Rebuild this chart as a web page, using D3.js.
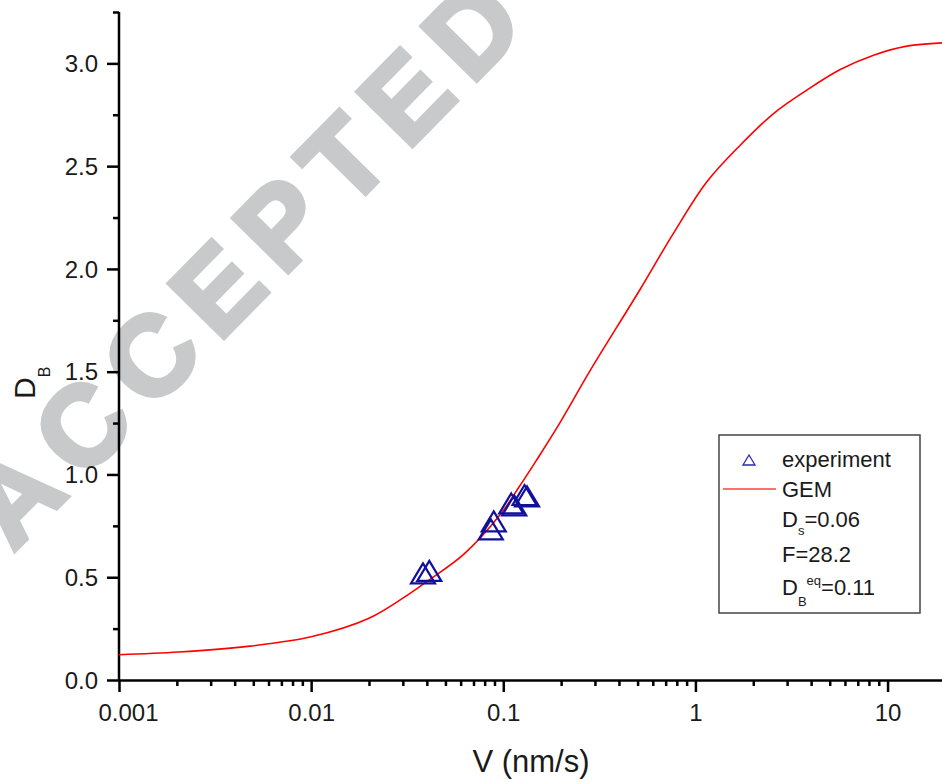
<!DOCTYPE html>
<html>
<head>
<meta charset="utf-8">
<script src="https://cdn.jsdelivr.net/npm/d3@7"></script>
<style>
  body { margin: 0; background: #fff; }
  svg { display: block; font-family: "Liberation Sans", Arial, sans-serif; }
</style>
</head>
<body>
<div id="chart"></div>
<script>
// GEM model curve
var gemV = [0.001, 0.00204, 0.0048, 0.01, 0.02, 0.033, 0.041, 0.0626, 0.0962, 0.121, 0.149,
            0.197, 0.283, 0.515, 0.768, 1.147, 1.71, 2.55, 3.8, 5.67, 8.45, 12.6, 19.2];
var gemD = [0.123, 0.136, 0.165, 0.21, 0.30, 0.424, 0.486, 0.614, 0.804, 0.94, 1.07,
            1.251, 1.505, 1.9, 2.173, 2.424, 2.602, 2.756, 2.87, 2.97, 3.04, 3.084, 3.1];

// experimental points
var expV = [0.0382, 0.0412, 0.0861, 0.0892, 0.110, 0.114, 0.129, 0.133];
var expD = [0.519, 0.531, 0.733, 0.772, 0.859, 0.850, 0.900, 0.893];

// axes
var xTicks = [0.001, 0.01, 0.1, 1, 10];
var xTickLabels = ["0.001", "0.01", "0.1", "1", "10"];
var yTicks = [0, 0.5, 1.0, 1.5, 2.0, 2.5, 3.0];
var yMinorTicks = [0.25, 0.75, 1.25, 1.75, 2.25, 2.75, 3.25];

var legendLines = ["experiment", "GEM"];

var svgWidth = 942;
var svgHeight = 782;

var svg = d3.select("#chart")
    .append("svg")
    .attr("width", svgWidth)
    .attr("height", svgHeight);

var x = d3.scaleLog()
    .domain([0.001, 19.2])
    .range([119, 942]);

var y = d3.scaleLinear()
    .domain([0, 3.25])
    .range([680, 12]);

// watermark, behind everything
svg.append("text")
    .attr("transform", "translate(242,262) rotate(-45.5)")
    .attr("y", 40)
    .attr("text-anchor", "middle")
    .attr("textLength", 735)
    .attr("lengthAdjust", "spacing")
    .attr("font-size", 112)
    .attr("font-weight", "bold")
    .attr("fill", "#c8c9ca")
    .attr("stroke", "#c8c9ca")
    .attr("stroke-width", 5)
    .attr("stroke-linejoin", "miter")
    .text("ACCEPTED");

// minor x ticks
var xMinor = [];
[0.001, 0.01, 0.1, 1, 10].forEach(function(d) {
  for (var k = 2; k <= 9; k++) {
    if (d * k <= 19.2) xMinor.push(d * k);
  }
});

svg.append("g")
    .attr("transform", "translate(0,680)")
    .call(d3.axisBottom(x).tickValues(xMinor).tickSize(6).tickSizeOuter(0).tickFormat(""))
    .call(g => g.select(".domain").remove())
    .call(g => g.selectAll("line").attr("stroke", "#000").attr("stroke-width", 2.5));

var xAxis = svg.append("g")
    .attr("transform", "translate(0,680)")
    .call(d3.axisBottom(x).tickValues(xTicks).tickSize(12).tickSizeOuter(0)
      .tickFormat((d, i) => xTickLabels[i]));

xAxis.select(".domain").attr("stroke", "#000").attr("stroke-width", 2.5);
xAxis.selectAll("line").attr("stroke", "#000").attr("stroke-width", 2.5);
xAxis.selectAll("text")
    .attr("y", 41)
    .attr("dy", 0)
    .attr("font-size", 24)
    .attr("font-family", "Liberation Sans, Arial, sans-serif")
    .attr("fill", "#1a1a1a")
    .attr("dx", (d, i) => i === 0 ? 9 : 0);

// y axis
svg.append("g")
    .attr("transform", "translate(119,0)")
    .call(d3.axisLeft(y).tickValues(yMinorTicks).tickSize(6).tickSizeOuter(0).tickFormat(""))
    .call(g => g.select(".domain").remove())
    .call(g => g.selectAll("line").attr("stroke", "#000").attr("stroke-width", 2.5));

var yAxis = svg.append("g")
    .attr("transform", "translate(119,0)")
    .call(d3.axisLeft(y).tickValues(yTicks).tickSize(12).tickSizeOuter(0).tickFormat(d3.format(".1f")));

yAxis.select(".domain").attr("d", "M0," + y(3.25) + "V" + y(0)).attr("stroke", "#000").attr("stroke-width", 2.5);
yAxis.selectAll("line").attr("stroke", "#000").attr("stroke-width", 2.5);
yAxis.selectAll("text")
    .attr("x", -21)
    .attr("dy", "0.34em")
    .attr("font-size", 24)
    .attr("font-family", "Liberation Sans, Arial, sans-serif")
    .attr("fill", "#1a1a1a");

// axis titles
svg.append("text")
    .attr("x", 531)
    .attr("y", 772)
    .attr("text-anchor", "middle")
    .attr("font-size", 31)
    .attr("fill", "#1a1a1a")
    .text("V (nm/s)");

var yTitle = svg.append("text")
    .attr("transform", "translate(35,399) rotate(-90)")
    .attr("font-size", 30)
    .attr("fill", "#1a1a1a");
yTitle.append("tspan").text("D");
yTitle.append("tspan").attr("dy", 15).attr("font-size", 16).text("B");

// GEM curve
var line = d3.line()
    .x((d, i) => x(gemV[i]))
    .y((d, i) => y(gemD[i]))
    .curve(d3.curveCatmullRom.alpha(0.5));

svg.append("path")
    .datum(gemD)
    .attr("d", line)
    .attr("fill", "none")
    .attr("stroke", "#ff0000")
    .attr("stroke-width", 1.6);

// experiment markers
var triangle = "M0,-10L12,10L-12,10Z";
svg.append("g")
    .selectAll("path")
    .data(expD)
    .enter()
    .append("path")
    .attr("d", triangle)
    .attr("transform", (d, i) => `translate(${x(expV[i])},${y(d)})`)
    .attr("fill", "none")
    .attr("stroke", "#10109c")
    .attr("stroke-width", 2.2);

// legend
var legend = svg.append("g");
legend.append("rect")
    .attr("x", 719)
    .attr("y", 435)
    .attr("width", 201)
    .attr("height", 178)
    .attr("fill", "#fff")
    .attr("stroke", "#444")
    .attr("stroke-width", 1.5);

legend.append("path")
    .attr("d", "M0,-5L6,5L-6,5Z")
    .attr("transform", "translate(749,460)")
    .attr("fill", "none")
    .attr("stroke", "#2a2ab4")
    .attr("stroke-width", 1.3);

legend.append("line")
    .attr("x1", 723).attr("x2", 776)
    .attr("y1", 489).attr("y2", 489)
    .attr("stroke", "#ff4040")
    .attr("stroke-width", 1.6);

legend.selectAll(".leg")
    .data(legendLines)
    .enter()
    .append("text")
    .attr("x", 782)
    .attr("y", (d, i) => 467 + i * 30)
    .attr("font-size", 22)
    .attr("fill", "#1a1a1a")
    .text(d => d);

var ds = legend.append("text")
    .attr("x", 782).attr("y", 527)
    .attr("font-size", 22).attr("fill", "#1a1a1a");
ds.append("tspan").text("D");
ds.append("tspan").attr("dy", 8).attr("font-size", 13).text("s");
ds.append("tspan").attr("dy", -8).text("=0.06");

legend.append("text")
    .attr("x", 782).attr("y", 562)
    .attr("font-size", 22).attr("fill", "#1a1a1a")
    .text("F=28.2");

var db = legend.append("text")
    .attr("x", 782).attr("y", 595)
    .attr("font-size", 22).attr("fill", "#1a1a1a");
db.append("tspan").text("D");
db.append("tspan").attr("dy", 11).attr("font-size", 13).text("B");
db.append("tspan").attr("dy", -21).attr("font-size", 13).text("eq");
db.append("tspan").attr("dy", 10).text("=0.11");
</script>
</body>
</html>
